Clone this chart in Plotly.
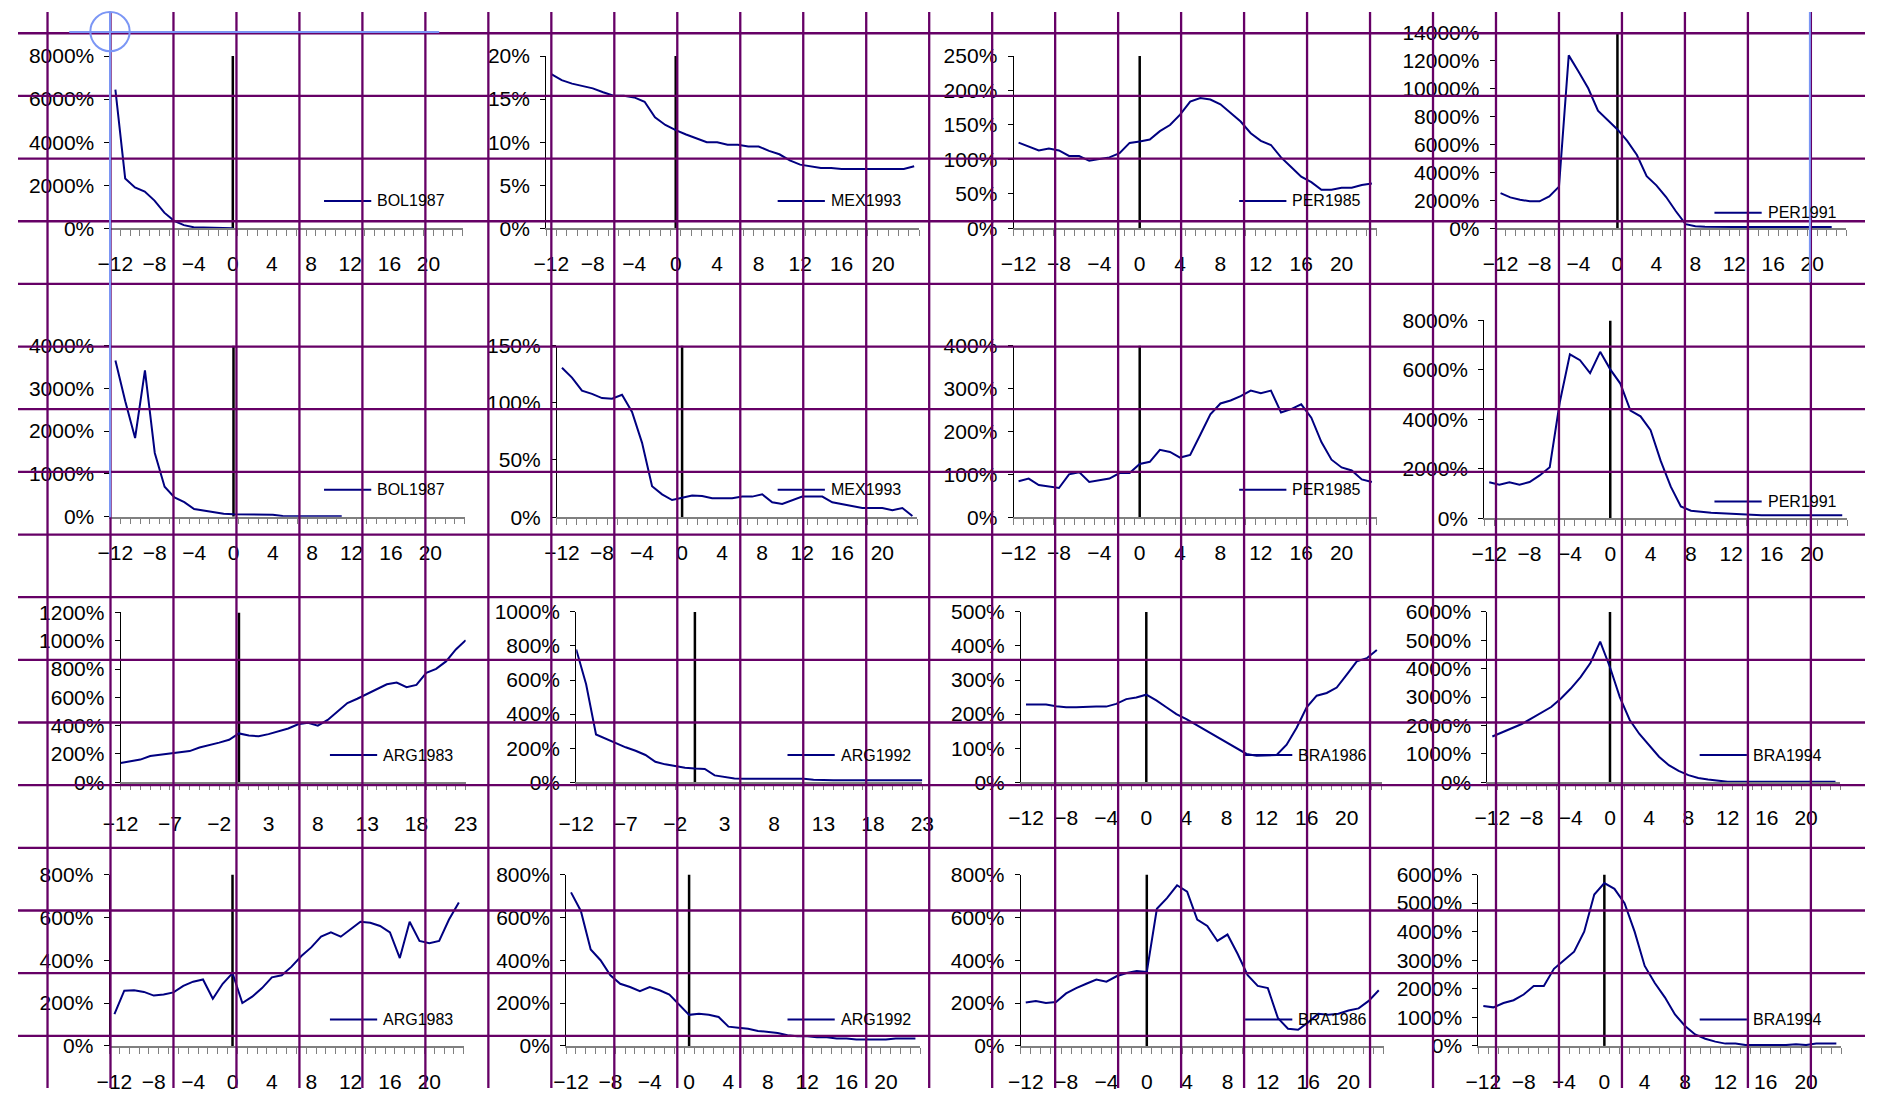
import plotly.graph_objects as go

W, H = 1877, 1099
MONTHS = list(range(-12, 24))

# ---------------- data (percent) ----------------
BOL1987_A = [6440, 2320, 1900, 1710, 1290, 730, 350, 150, 50, 45, 45, 45, 5]
BOL1987_B = [3650, 2700, 1840, 3420, 1490, 700, 450, 340, 180, 140, 100, 70,
             55, 50, 50, 50, 45, 15, 10, 10, 10, 10, 10, 10]
MEX1993_A = [17.9, 17.2, 16.8, 16.5, 16.25, 15.8, 15.4, 15.4, 15.2, 14.7, 12.9, 12.0,
             11.4, 10.9, 10.45, 10.0, 10.0, 9.7, 9.7, 9.5, 9.5, 9.0, 8.6, 7.9,
             7.4, 7.2, 7.0, 7.0, 6.9, 6.9, 6.9, 6.9, 6.9, 6.9, 6.9, 7.2]
MEX1993_B = [130.6, 122, 110.6, 107.8, 104.1, 103.5, 107, 92, 65, 27, 20, 15,
             17, 19, 18.5, 16.5, 16.5, 16.5, 18, 18, 20, 13, 11.5, 15,
             18, 18, 18, 13, 11.5, 10, 8, 8, 8, 6, 8, 1]
PER1985_A = [124.5, 119, 113, 116, 113, 105, 105, 98, 101, 103, 109, 124,
             126, 129, 141, 150, 165, 184, 189, 187, 180, 168, 155, 138,
             127, 121, 103, 89, 75, 67, 56, 56, 59, 59, 63, 65]
PER1985_B = [84, 90, 75, 72, 68, 100, 105, 82, 86, 90, 103, 103,
             124, 129, 157, 152, 139, 145, 192, 240, 265, 272, 282, 295,
             289, 295, 244, 252, 263, 232, 175, 134, 116, 109, 88, 82]
PER1991_A = [2520, 2210, 2050, 1930, 1930, 2280, 2980, 12350, 11200, 10000, 8400, 7750,
             7060, 6240, 5240, 3730, 3070, 2240, 1220, 300, 150, 120, 100, 100,
             100, 100, 100, 100, 100, 100, 100, 100, 100, 100, 100]
PER1991_B = [1450, 1350, 1450, 1350, 1465, 1730, 2060, 4700, 6630, 6390, 5870, 6730,
             6020, 5445, 4356, 4120, 3560, 2317, 1275, 475, 300, 250, 220, 200,
             180, 150, 120, 120, 120, 120, 120, 120, 120, 120, 120, 120]
ARG1983_A = [136, 150, 160, 185, 195, 205, 210, 220, 245, 260, 280, 300,
             345, 330, 325, 340, 360, 380, 410, 420, 400, 440, 500, 560,
             590, 625, 655, 692, 704, 672, 688, 773, 801, 854, 939, 1004]
ARG1992_A = [779, 575, 280, 255, 230, 205, 185, 160, 120, 105, 95, 85,
             80, 78, 40, 30, 22, 20, 20, 20, 20, 20, 20, 20,
             15, 12, 12, 12, 12, 12, 12, 12, 12, 12, 12, 12]
BRA1986_A = [228, 228, 228, 223, 220, 220, 222, 222, 222, 230, 244, 249,
             257, 240, 220, 200, 185, 168, 150, 133, 117, 100, 83, 78,
             78, 80, 110, 160, 220, 254, 262, 278, 316, 355, 364, 388]
BRA1994_A = [1610, 1750, 1900, 2050, 2250, 2450, 2650, 2950, 3300, 3700, 4200, 4950,
             4050, 3000, 2200, 1700, 1300, 900, 600, 400, 250, 150, 100, 50,
             20, 20, 20, 20, 20, 20, 20, 20, 20, 20, 20, 20]
ARG1983_B = [148, 258, 260, 252, 235, 240, 250, 280, 300, 310, 220, 290,
             340, 200, 230, 270, 320, 330, 370, 420, 460, 510, 530, 510,
             545, 580, 575, 560, 530, 410, 580, 490, 480, 490, 590, 670]
ARG1992_B = [717, 630, 450, 400, 330, 290, 275, 255, 275, 260, 240, 190,
             145, 150, 145, 135, 90, 85, 80, 70, 65, 60, 50, 45,
             45, 40, 40, 35, 35, 30, 30, 30, 30, 35, 35, 35]
BRA1986_B = [203, 210, 200, 205, 245, 270, 290, 310, 300, 325, 340, 350,
             345, 640, 690, 750, 720, 590, 560, 490, 520, 430, 330, 280,
             270, 130, 80, 75, 110, 150, 145, 150, 165, 175, 210, 260]
BRA1994_B = [1400, 1350, 1500, 1600, 1800, 2100, 2100, 2700, 3000, 3300, 4000, 5300,
             5700, 5500, 5000, 4000, 2800, 2200, 1700, 1100, 700, 400, 250, 150,
             80, 80, 30, 30, 30, 30, 30, 60, 30, 80, 80, 80]

# ---------------- panel layout (pixels) ----------------
PANELS = [
    ("BOL1987", BOL1987_A, 8000, 2000, 94, 452, 45, 221, "between", 4, 311, 193),
    ("MEX1993", MEX1993_A, 20, 5, 536.7, 916, 45, 221, "between", 4, 772, 193),
    ("PER1985", PER1985_A, 250, 50, 1011.7, 1381, 45, 221, "between", 4, 1241, 193),
    ("PER1991", PER1991_A, 14000, 2000, 1501.7, 1858, 20.7, 221, "between", 4, 1724, 205),
    ("BOL1987", BOL1987_B, 4000, 1000, 94, 454, 340.7, 515.5, "between", 4, 311, 488),
    ("MEX1993", MEX1993_B, 150, 50, 547.7, 914, 340.7, 516, "between", 4, 772, 488),
    ("PER1985", PER1985_B, 400, 100, 1011.7, 1381, 340.7, 516, "between", 4, 1241, 488),
    ("PER1991", PER1991_B, 8000, 2000, 1490, 1859, 315, 517, "between", 4, 1724, 500),
    ("ARG1983", ARG1983_A, 1200, 200, 104.3, 455, 613.3, 786.7, "on", 5, 317, 759),
    ("ARG1992", ARG1992_A, 1000, 200, 567.3, 919, 612.7, 786.7, "on", 5, 782, 759),
    ("BRA1986", BRA1986_A, 500, 100, 1019.3, 1386, 612.7, 786.7, "between", 4, 1247, 759),
    ("BRA1994", BRA1994_A, 6000, 1000, 1493.3, 1852, 612.7, 786.7, "between", 4, 1709, 759),
    ("ARG1983", ARG1983_B, 800, 200, 93, 453, 881, 1056, "between", 4, 317, 1029),
    ("ARG1992", ARG1992_B, 800, 200, 557, 917, 881, 1056, "between", 4, 782, 1029),
    ("BRA1986", BRA1986_B, 800, 200, 1019, 1388, 881, 1056, "between", 4, 1247, 1029),
    ("BRA1994", BRA1994_B, 6000, 1000, 1484, 1853, 881, 1056, "between", 4, 1709, 1029),
]

FONT = "Liberation Sans, Arial, sans-serif"
NAVY = "#000080"
PURPLE = "#660066"
BLUE = "#7b96f5"


def fx(p):
    return p / W


def fy(p):
    return 1 - p / H


fig = go.Figure()
shapes = []
annotations = []

for i, (name, vals, ymax, ydt, x0, x1, ytop, ybot, mode, xdt, lx, ly) in enumerate(PANELS):
    k = "" if i == 0 else str(i + 1)
    xa, ya = "x" + k, "y" + k
    xs = MONTHS[:len(vals)]
    fig.add_trace(go.Scatter(x=[0, 0], y=[0, ymax], mode="lines",
                             line=dict(color="black", width=2.5),
                             xaxis=xa, yaxis=ya, showlegend=False, hoverinfo="skip"))
    fig.add_trace(go.Scatter(x=xs, y=vals, mode="lines", name=name,
                             line=dict(color=NAVY, width=2),
                             xaxis=xa, yaxis=ya, showlegend=False))
    if mode == "between":
        xr = [-12.5, 23.5]
        minor = dict(ticks="outside", ticklen=6, tickcolor="#808080", tickwidth=1,
                     tick0=-12.5, dtick=1, showgrid=False)
        major_ticks = ""
    else:
        xr = [-12, 23]
        minor = dict(ticks="outside", ticklen=6, tickcolor="#808080", tickwidth=1,
                     tick0=-12, dtick=1, showgrid=False)
        major_ticks = "outside"
    fig.layout["xaxis" + k] = dict(
        domain=[fx(x0), fx(x1)], anchor=ya, range=xr,
        tickmode="linear", tick0=-12, dtick=xdt,
        ticks=major_ticks, ticklen=6, tickcolor="#808080",
        minor=minor, showgrid=False, zeroline=False,
        showline=True, linecolor="#808080", linewidth=1.5,
        tickfont=dict(family=FONT, size=21, color="black"),
        ticklabelstandoff=16, fixedrange=True,
    )
    fig.layout["yaxis" + k] = dict(
        domain=[fy(ybot), fy(ytop)], anchor=xa, range=[0, ymax],
        tickmode="linear", tick0=0, dtick=ydt, ticksuffix="%",
        tickformat="d", exponentformat="none",
        ticks="outside", ticklen=5, tickcolor="black",
        showgrid=False, zeroline=False,
        showline=True, linecolor="black", linewidth=1,
        tickfont=dict(family=FONT, size=21, color="black"),
        ticklabelstandoff=6, fixedrange=True,
    )
    # legend (line sample + text)
    shapes.append(dict(type="line", xref="paper", yref="paper",
                       x0=fx(lx), x1=fx(lx + 48), y0=fy(ly), y1=fy(ly),
                       line=dict(color=NAVY, width=2)))
    annotations.append(dict(xref="paper", yref="paper", x=fx(lx + 52), y=fy(ly),
                            text=name, showarrow=False, xanchor="left", yanchor="middle",
                            font=dict(family=FONT, size=16, color="black")))

# spreadsheet gridlines drawn over the charts
for kx in range(29):
    xp = 30 + 64 * kx
    shapes.append(dict(type="line", xref="paper", yref="paper", layer="above",
                       x0=fx(xp), x1=fx(xp), y0=0, y1=1,
                       line=dict(color=PURPLE, width=2.3)))
for ky in range(17):
    yp = 21.7 + 64 * ky
    shapes.append(dict(type="line", xref="paper", yref="paper", layer="above",
                       x0=0, x1=1, y0=fy(yp), y1=fy(yp),
                       line=dict(color=PURPLE, width=2.3)))

# selection marks (light blue)
shapes.append(dict(type="line", xref="paper", yref="paper", layer="above",
                   x0=fx(52), x1=fx(428), y0=fy(20.3), y1=fy(20.3),
                   line=dict(color=BLUE, width=2)))
shapes.append(dict(type="line", xref="paper", yref="paper", layer="above",
                   x0=fx(93.5), x1=fx(93.5), y0=fy(0), y1=fy(516),
                   line=dict(color=BLUE, width=2)))
shapes.append(dict(type="line", xref="paper", yref="paper", layer="above",
                   x0=fx(1821), x1=fx(1821), y0=fy(0), y1=fy(276),
                   line=dict(color=BLUE, width=2)))
shapes.append(dict(type="circle", xref="paper", yref="paper", layer="above",
                   x0=fx(73.5), x1=fx(113.5), y0=fy(40), y1=fy(0),
                   line=dict(color=BLUE, width=2)))

fig.update_layout(
    width=W, height=H, margin=dict(l=0, r=0, t=0, b=0),
    paper_bgcolor="white", plot_bgcolor="rgba(0,0,0,0)",
    showlegend=False, shapes=shapes, annotations=annotations,
    font=dict(family=FONT, color="black"),
)

POST = (
    "document.documentElement.style.margin='0';"
    "document.documentElement.style.padding='0';"
    "document.documentElement.style.overflow='hidden';"
    "document.body.style.margin='0';"
    "document.body.style.padding='0';"
    "document.body.style.overflow='hidden';"
)

fig.write_html("out.html", config={"displayModeBar": False}, post_script=POST)
